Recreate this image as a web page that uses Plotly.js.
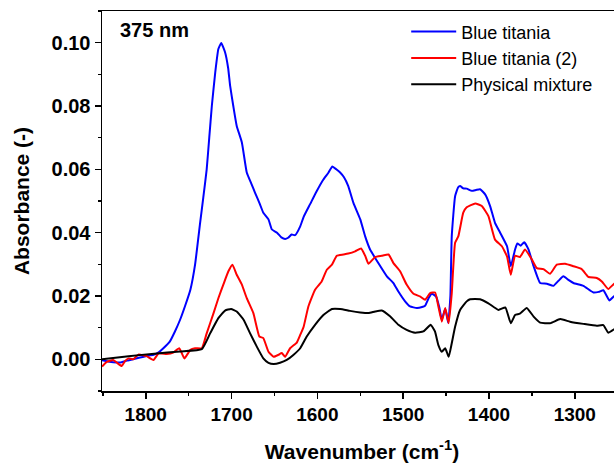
<!DOCTYPE html>
<html>
<head>
<meta charset="utf-8">
<script src="https://cdn.plot.ly/plotly-3.0.1.min.js"></script>
<style>
html,body{margin:0;padding:0;overflow:hidden;background:#fff;width:614px;height:463px;}
#chart{width:622px;height:463px;}
</style>
</head>
<body>
<div id="chart"></div>
<script>
// Blue titania
const wnBlue = [1851,1845,1838,1830,1822,1815,1808,1800,1791,1785,1779.5,1772,1766,1760,1754,1748,1742.5,1736.7,1733,1729,1726,1723,1719,1715.4,1712,1707.6,1704,1701.7,1698,1694,1688,1682.3,1677,1672.6,1667,1663,1657,1653,1647,1642,1637.6,1634,1630,1626,1620,1616,1608.5,1601,1593,1587,1582.5,1578,1573.5,1569,1564,1558,1550,1544.4,1538.6,1529,1519,1511.4,1505.6,1497.8,1492,1484,1478,1474.5,1470,1466.6,1461.6,1458,1455,1451,1447.5,1445,1443.4,1439.5,1436,1433.7,1430,1426,1420,1415,1410.4,1404.5,1398.7,1393,1387,1379,1374.6,1369.6,1367,1363,1359,1354,1348,1340.4,1332.6,1325,1319,1313.3,1307,1301.6,1290,1278.3,1272,1266.7,1259.7,1254,1248];
const absBlue = [-0.0003,-0.0006,-0.0009,-0.0010,-0.0004,0.0000,0.0005,0.0010,0.0014,0.0022,0.0035,0.0056,0.0088,0.0125,0.0170,0.0220,0.0300,0.0430,0.0510,0.0600,0.0700,0.0800,0.0907,0.0980,0.0999,0.0970,0.0920,0.0864,0.0800,0.0737,0.0685,0.0590,0.0555,0.0526,0.0490,0.0463,0.0442,0.0410,0.0400,0.0385,0.0380,0.0384,0.0394,0.0392,0.0420,0.0450,0.0490,0.0530,0.0568,0.0590,0.0609,0.0600,0.0590,0.0575,0.0547,0.0494,0.0442,0.0389,0.0347,0.0304,0.0262,0.0241,0.0214,0.0183,0.0167,0.0162,0.0165,0.0169,0.0195,0.0207,0.0198,0.0165,0.0125,0.0160,0.0115,0.0200,0.0389,0.0515,0.0543,0.0547,0.0540,0.0539,0.0532,0.0535,0.0537,0.0521,0.0484,0.0431,0.0400,0.0357,0.0294,0.0347,0.0366,0.0359,0.0370,0.0347,0.0294,0.0241,0.0239,0.0232,0.0248,0.0262,0.0250,0.0241,0.0232,0.0211,0.0213,0.0218,0.0186,0.0200,0.0205];

// Blue titania (2)
const wnRed = [1851,1845.5,1838,1833,1828,1824,1820,1814.5,1808.6,1803,1799,1791,1785,1775.5,1768,1761,1755,1748,1742.5,1734.7,1729,1721,1715.4,1709.6,1703.7,1699,1694,1688,1682.3,1674.6,1667.6,1663,1657,1651,1645.5,1641.5,1637.6,1631.8,1624,1620,1616,1610.5,1602.7,1595,1589,1583,1577.4,1569.7,1564,1556,1549,1544,1540.5,1532.7,1525,1517,1511.4,1503.6,1496,1488,1480,1474.5,1468.6,1462.8,1459,1455,1451,1447,1443.4,1439.5,1435.7,1430,1426,1416,1408.4,1400.7,1393,1385,1379,1374.6,1369.6,1364,1358,1350,1344.3,1336.6,1328.8,1321,1311.3,1301.6,1292,1284,1274.4,1268.5,1261,1254,1248];
const absRed = [-0.0023,-0.0008,-0.0002,-0.0012,-0.0021,-0.0005,0.0003,0.0000,0.0015,0.0013,0.0010,-0.0002,0.0019,0.0017,0.0021,0.0035,0.0003,0.0030,0.0035,0.0035,0.0082,0.0146,0.0193,0.0236,0.0278,0.0299,0.0267,0.0236,0.0193,0.0146,0.0072,0.0067,0.0024,0.0008,0.0014,0.0020,0.0008,0.0035,0.0053,0.0077,0.0103,0.0167,0.0220,0.0246,0.0283,0.0299,0.0327,0.0331,0.0334,0.0341,0.0350,0.0325,0.0302,0.0323,0.0327,0.0331,0.0304,0.0278,0.0236,0.0207,0.0198,0.0188,0.0209,0.0211,0.0167,0.0119,0.0162,0.0114,0.0209,0.0368,0.0389,0.0463,0.0480,0.0492,0.0484,0.0452,0.0378,0.0357,0.0325,0.0267,0.0327,0.0323,0.0347,0.0315,0.0288,0.0285,0.0270,0.0299,0.0302,0.0294,0.0285,0.0260,0.0257,0.0246,0.0222,0.0239,0.0245];

// Physical mixture
const wnBlack = [1851,1820,1790,1760,1734.7,1725,1715.4,1707.6,1700.6,1694,1686,1678.4,1670.6,1663,1657,1651,1643.5,1635.7,1628,1620,1612.4,1602.7,1593,1583,1573.5,1562,1550,1540.5,1532.7,1525,1515,1505.6,1496,1486,1476.5,1468,1463,1459,1455,1451,1447,1443.4,1439.5,1433.7,1426,1422,1410.4,1400.7,1389,1381,1374.6,1369.6,1364,1356,1348,1340.4,1328.8,1317,1305.6,1290,1274.4,1266.7,1261,1254,1248];
const absBlack = [0.0000,0.0010,0.0018,0.0025,0.0032,0.0082,0.0130,0.0154,0.0159,0.0151,0.0125,0.0082,0.0040,0.0003,-0.0011,-0.0015,-0.0011,-0.0002,0.0014,0.0035,0.0072,0.0109,0.0140,0.0159,0.0159,0.0153,0.0148,0.0146,0.0151,0.0154,0.0135,0.0109,0.0093,0.0084,0.0088,0.0109,0.0088,0.0045,0.0024,0.0035,0.0008,0.0051,0.0103,0.0156,0.0183,0.0190,0.0190,0.0177,0.0156,0.0164,0.0114,0.0140,0.0144,0.0162,0.0135,0.0116,0.0114,0.0127,0.0119,0.0112,0.0106,0.0108,0.0084,0.0095,0.0100];

const seriesNames = ["Blue titania", "Blue titania (2)", "Physical mixture"];
const xTickVals = [1800,1700,1600,1500,1400,1300];
const yTickVals = [0.00,0.02,0.04,0.06,0.08,0.10];
const yTickText = ["0.00","0.02","0.04","0.06","0.08","0.10"];

const lineOpts = (c) => ({color: c, width: 2, shape: 'spline', smoothing: 0.4});
const traces = [
  {x: wnBlue, y: absBlue, mode: 'lines', name: seriesNames[0], line: lineOpts('#0000ff')},
  {x: wnRed, y: absRed, mode: 'lines', name: seriesNames[1], line: lineOpts('#ff0000')},
  {x: wnBlack, y: absBlack, mode: 'lines', name: seriesNames[2], line: lineOpts('#000000')}
];

const FAM = 'Arial, Liberation Sans, sans-serif';
const xTickFont = {family: FAM, size: 19, color: '#000', weight: 'bold'};
const yTickFont = {family: FAM, size: 20, color: '#000', weight: 'bold'};
const titleFont = {family: FAM, size: 21, color: '#000', weight: 'bold'};

const layout = {
  width: 622, height: 463,
  margin: {l: 102, r: 0, t: 11, b: 72},
  paper_bgcolor: '#fff', plot_bgcolor: '#fff',
  showlegend: true,
  legend: {
    x: 0.585, y: 0.994, xanchor: 'left', yanchor: 'top',
    itemwidth: 45,
    bgcolor: 'rgba(0,0,0,0)', borderwidth: 0,
    font: {family: FAM, size: 18, color: '#000'}
  },
  xaxis: {
    range: [1851, 1245],
    showgrid: false, zeroline: false,
    showline: true, linecolor: '#000', linewidth: 1.5, mirror: true,
    ticks: 'outside', ticklen: 6, tickwidth: 1.5, tickcolor: '#000',
    tickvals: xTickVals, ticktext: xTickVals.map(String),
    tickfont: xTickFont,
    minor: {dtick: 50, tick0: 1300, ticks: 'outside', ticklen: 3, tickwidth: 1.5, tickcolor: '#000', showgrid: false},
    title: {text: 'Wavenumber (cm<sup>-1</sup>)', font: titleFont, standoff: 20}
  },
  yaxis: {
    range: [-0.01, 0.11],
    showgrid: false, zeroline: false,
    showline: true, linecolor: '#000', linewidth: 1.5, mirror: true,
    ticks: 'outside', ticklen: 6, tickwidth: 1.5, tickcolor: '#000',
    tickvals: yTickVals, ticktext: yTickText,
    tickfont: yTickFont,
    minor: {dtick: 0.01, tick0: 0, ticks: 'outside', ticklen: 3, tickwidth: 1.5, tickcolor: '#000', showgrid: false},
    title: {text: 'Absorbance (-)', font: titleFont, standoff: 16}
  },
  annotations: [{
    text: '375 nm', xref: 'paper', yref: 'paper', x: 0.03, y: 0.985,
    xanchor: 'left', yanchor: 'top', showarrow: false,
    font: {family: FAM, size: 20, color: '#000', weight: 'bold'}
  }]
};

Plotly.newPlot('chart', traces, layout, {displayModeBar: false, staticPlot: true});
</script>
</body>
</html>
